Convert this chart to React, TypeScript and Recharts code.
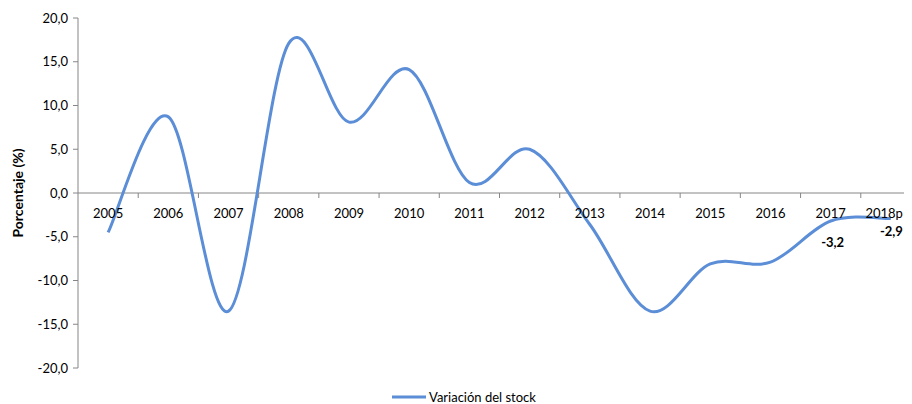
import React from 'react';
import { LineChart, Line, XAxis, YAxis, ReferenceLine, LabelList, Legend, Label } from 'recharts';

const years = ['2005', '2006', '2007', '2008', '2009', '2010', '2011', '2012', '2013', '2014', '2015', '2016', '2017', '2018p'];
const variacion = [-4.5, 8.7, -13.5, 17.1, 8.1, 14.1, 1.2, 5.0, -3.6, -13.5, -8.1, -7.9, -3.2, -2.9];
const yTicks = [20, 15, 10, 5, 0, -5, -10, -15, -20];
const labelledYears = ['2017', '2018p'];

const data = years.map((y, i) => ({ year: y, v: variacion[i] }));

const FONT = 'Lato, "Open Sans", sans-serif';
const W = 920;
const H = 396;
const M = { top: 10, right: 7, left: 20, bottom: 35 };
const X_AXIS_H = 1;
const PLOT_H = H - M.top - M.bottom - X_AXIS_H;
const PLOT_W = W - M.left - 50 - M.right;
const Y_MAX = 20;
const Y_MIN = -20;
const ZERO_Y = M.top + (PLOT_H * Y_MAX) / (Y_MAX - Y_MIN);
const BAND = PLOT_W / years.length;
const LINE_COLOR = '#5B8ED6';
const AXIS_COLOR = '#868686';

// Excel-like smooth curve (Catmull-Rom style bezier)
function excelCurve(context: any) {
  let pts: number[][] = [];
  return {
    areaStart() {},
    areaEnd() {},
    lineStart() {
      pts = [];
    },
    point(x: number, y: number) {
      pts.push([+x, +y]);
    },
    lineEnd() {
      if (!pts.length) return;
      context.moveTo(pts[0][0], pts[0][1]);
      for (let i = 0; i < pts.length - 1; i++) {
        const p0 = pts[i - 1] || pts[i];
        const p1 = pts[i];
        const p2 = pts[i + 1];
        const p3 = pts[i + 2] || p2;
        const c1x = p1[0] + (p2[0] - p0[0]) / 6;
        const c1y = p1[1] + (p2[1] - p0[1]) / 6;
        const c2x = p2[0] - (p3[0] - p1[0]) / 6;
        const c2y = p2[1] - (p3[1] - p1[1]) / 6;
        context.bezierCurveTo(c1x, c1y, c2x, c2y, p2[0], p2[1]);
      }
    },
  };
}

const XTick = (props: any) => {
  const { x, payload, index } = props;
  const isLast = index === years.length - 1;
  return (
    <g>
      <line x1={x + BAND / 2} x2={x + BAND / 2} y1={ZERO_Y} y2={ZERO_Y + 5} stroke={AXIS_COLOR} strokeWidth={1} />
      <text
        x={isLast ? x + 12 : x}
        y={ZERO_Y + 25}
        textAnchor={isLast ? 'end' : 'middle'}
        fontFamily={FONT}
        fontSize={13}
        fill="#000"
      >
        {payload.value}
      </text>
    </g>
  );
};

const DataLabel = (props: any) => {
  const { x, y, value, index } = props;
  const yr = years[index];
  if (!labelledYears.includes(yr)) return null;
  const isLast = yr === '2018p';
  return (
    <text
      x={isLast ? x + 12 : x + 2}
      y={y + (isLast ? 18 : 26)}
      textAnchor={isLast ? 'end' : 'middle'}
      fontFamily={FONT}
      fontSize={13}
      fontWeight="bold"
      fill="#000"
    >
      {Number(value).toFixed(1).replace('.', ',')}
    </text>
  );
};

const LegendContent = () => (
  <div style={{ display: 'flex', justifyContent: 'center', alignItems: 'center', fontFamily: FONT, fontSize: 13, lineHeight: '14px', color: '#000' }}>
    <svg width={34} height={6} style={{ display: 'block' }}>
      <line x1={0} x2={34} y1={3} y2={3} stroke={LINE_COLOR} strokeWidth={3} />
    </svg>
    <span style={{ marginLeft: 3 }}>Variación del stock</span>
  </div>
);

export default function App() {
  return (
    <div style={{ width: W, height: H }}>
      <style>{'html { overflow: hidden; }'}</style>
      <LineChart width={W} height={H} data={data} margin={M}>
        <XAxis
          dataKey="year"
          scale="band"
          height={X_AXIS_H}
          axisLine={false}
          tickLine={false}
          tick={<XTick />}
          interval={0}
        />
        <YAxis
          width={50}
          domain={[Y_MIN, Y_MAX]}
          ticks={yTicks}
          interval={0}
          allowDataOverflow
          tickFormatter={(v: number) => v.toFixed(1).replace('.', ',')}
          axisLine={{ stroke: AXIS_COLOR }}
          tickLine={{ stroke: AXIS_COLOR }}
          tickSize={5}
          tickMargin={5}
          tick={{ fontFamily: FONT, fontSize: 13, fill: '#000' }}
        >
          <Label
            content={() => (
              <text transform={`translate(15, ${ZERO_Y}) rotate(-90)`} textAnchor="middle" fontFamily={FONT} fontSize={14} fontWeight="bold" fill="#000">
                Porcentaje (%)
              </text>
            )}
          />
        </YAxis>
        <ReferenceLine y={0} stroke={AXIS_COLOR} strokeWidth={1} />
        <Line
          type={excelCurve as any}
          dataKey="v"
          stroke={LINE_COLOR}
          strokeWidth={3}
          dot={false}
          activeDot={false}
          isAnimationActive={false}
        >
          <LabelList dataKey="v" content={<DataLabel />} />
        </Line>
        <Legend
          layout="horizontal"
          verticalAlign="middle"
          align="center"
          wrapperStyle={{ top: 382, left: 0, width: 912 }}
          content={<LegendContent />}
        />
      </LineChart>
    </div>
  );
}
